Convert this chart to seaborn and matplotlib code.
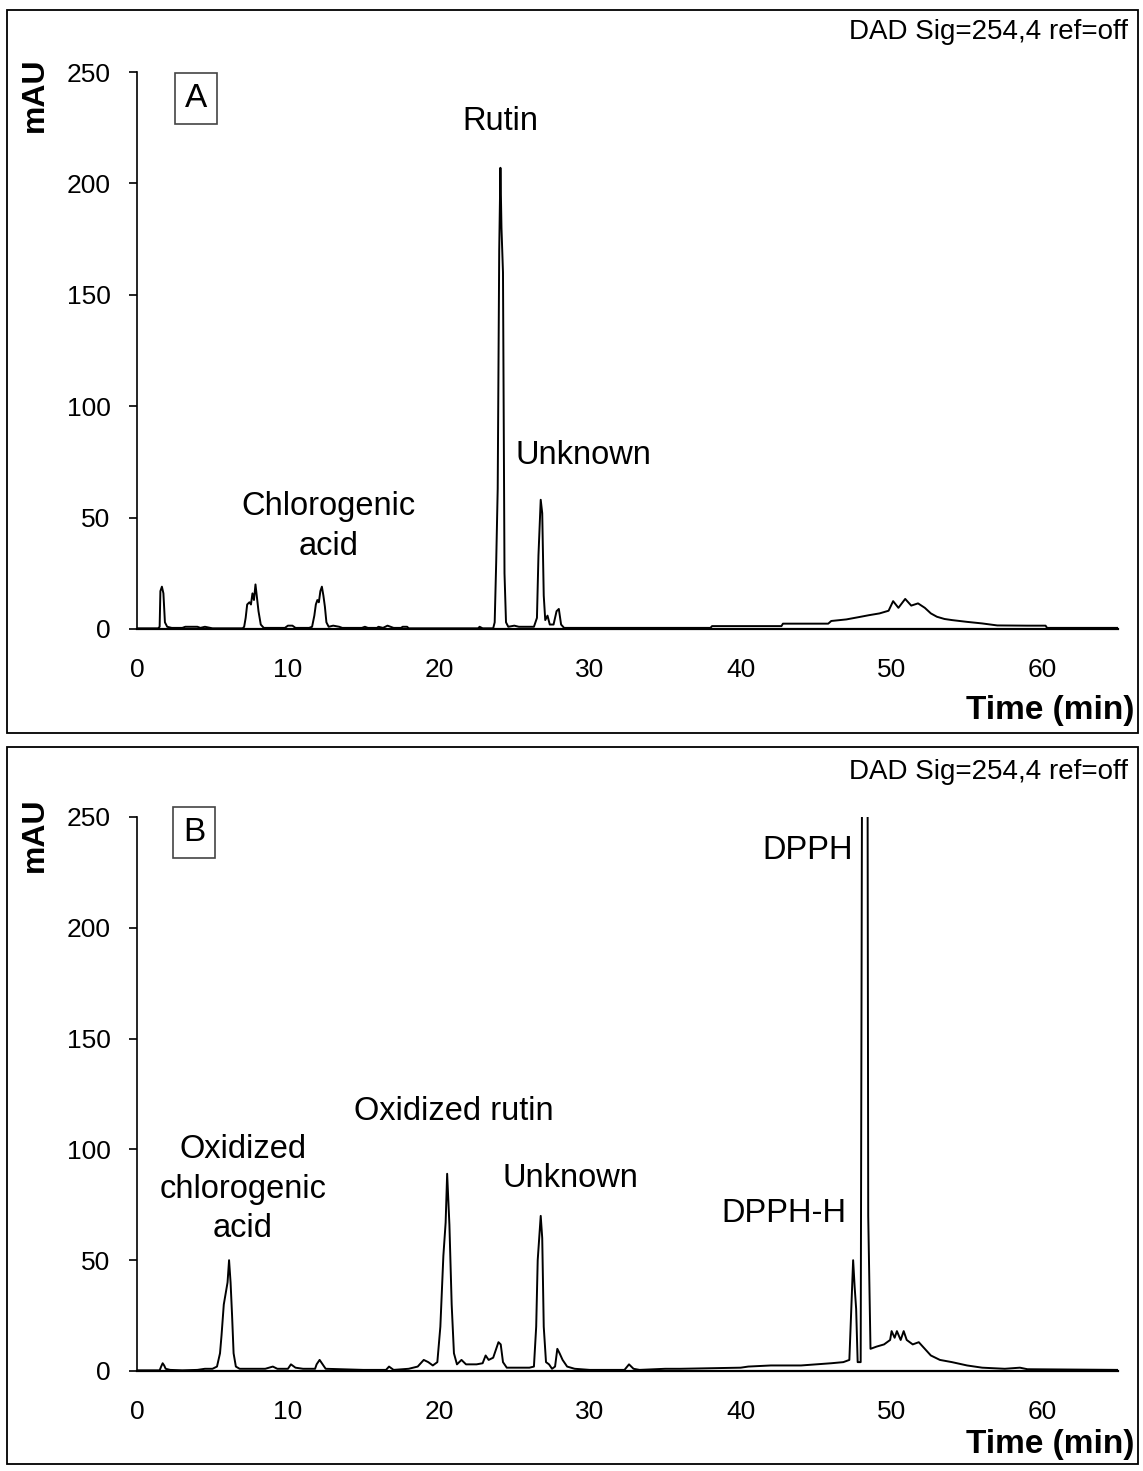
import numpy as np
import pandas as pd
import matplotlib
matplotlib.use("Agg")
import matplotlib.pyplot as plt
import seaborn as sns
from matplotlib.patches import Rectangle

# ---------------- data ----------------
time_a = [0.0, 1.4, 1.5, 1.55, 1.65, 1.75, 1.85, 2.0, 2.3, 3.0, 3.2, 4.0, 4.2, 4.5, 5.0,
          7.0, 7.1, 7.2, 7.3, 7.45, 7.55, 7.65, 7.75, 7.85, 7.95, 8.05, 8.2, 8.4,
          9.8, 10.0, 10.3, 10.5, 11.4, 11.6, 11.75, 11.85, 11.95, 12.05, 12.15, 12.25,
          12.35, 12.45, 12.55, 12.7, 13.0, 13.4, 13.6, 14.9, 15.1, 15.3, 15.9, 16.0,
          16.3, 16.6, 16.8, 17.0, 17.5, 17.6, 17.9, 18.0, 22.6, 22.7, 22.9, 23.6, 23.7,
          23.8, 23.9, 24.0, 24.08, 24.15, 24.25, 24.35, 24.45, 24.6, 25.0, 25.3, 25.6,
          26.3, 26.5, 26.6, 26.75, 26.85, 26.95, 27.05, 27.2, 27.35, 27.6, 27.8, 27.95,
          28.1, 28.3, 38.0, 38.1, 42.7, 42.8, 45.8, 46.0, 47.0, 47.8, 48.5, 49.2, 49.8,
          50.1, 50.45, 50.9, 51.3, 51.75, 52.2, 52.6, 53.0, 53.5, 54.0, 55.0, 56.0,
          57.0, 59.0, 60.2, 60.3, 65.0]
mau_a = [0.3, 0.3, 1, 17, 19, 16, 3, 1, 0.5, 0.5, 1, 1, 0.5, 1, 0.3,
         0.3, 1, 5, 11, 12, 11, 16, 13, 20, 14, 8, 2, 0.5,
         0.5, 1.5, 1.5, 0.5, 0.5, 1, 6, 11, 13, 12, 17, 19,
         15, 10, 3, 1, 1.5, 1, 0.5, 0.5, 1, 0.5, 0.5, 1,
         0.5, 1.5, 1, 0.5, 0.5, 1, 1, 0.3, 0.3, 1, 0.3, 0.3, 3,
         30, 63, 170, 207, 180, 160, 25, 3, 1, 1.5, 1, 1,
         1, 5, 33, 58, 52, 15, 4, 6, 2, 2, 8, 9,
         2, 0.5, 0.5, 1.3, 1.3, 2.4, 2.4, 3.6, 4.3, 5.3, 6.2, 7.0, 8.2,
         12.5, 9.5, 13.5, 10.5, 11.5, 9.5, 7.0, 5.5, 4.5, 4.0, 3.2, 2.5,
         1.6, 1.5, 1.5, 0.5, 0.5]

time_b = [0.0, 1.5, 1.6, 1.7, 1.8, 1.9, 2.2, 3.0, 4.0, 4.5, 5.0, 5.3, 5.5, 5.6, 5.75,
          5.9, 6.0, 6.1, 6.2, 6.3, 6.4, 6.55, 6.8, 8.5, 9.0, 9.3, 10.0, 10.2, 10.5,
          11.0, 11.8, 11.9, 12.1, 12.3, 12.5, 15.0, 16.5, 16.7, 17.0, 18.0, 18.6, 19.0,
          19.3, 19.6, 19.9, 20.1, 20.3, 20.45, 20.55, 20.7, 20.85, 21.0, 21.2, 21.5,
          21.8, 22.5, 22.9, 23.1, 23.3, 23.6, 23.8, 23.95, 24.1, 24.25, 24.5, 26.0,
          26.3, 26.45, 26.55, 26.65, 26.75, 26.85, 26.95, 27.1, 27.3, 27.5, 27.7,
          27.85, 28.0, 28.2, 28.5, 29.0, 30.0, 32.3, 32.6, 32.9, 33.3, 35.0, 36.0,
          40.0, 40.5, 42.0, 44.0, 46.0, 46.8, 47.2, 47.35, 47.45, 47.55, 47.65, 47.75,
          47.95, 48.05, 48.4, 48.45, 48.6, 49.0, 49.5, 49.9, 50.0, 50.2, 50.35, 50.6,
          50.8, 51.0, 51.4, 51.8, 52.2, 52.6, 53.2, 54.0, 55.0, 56.0, 57.5, 58.5,
          59.0, 65.0]
mau_b = [0.3, 0.3, 2, 3.5, 2.5, 1, 0.5, 0.3, 0.5, 1, 1, 2, 8, 16, 30,
         36, 40, 50, 40, 25, 8, 2, 1, 1, 2, 1, 1, 3, 1.5,
         1, 1, 3, 5, 3, 1, 0.5, 0.5, 2, 0.5, 1, 2, 5,
         4, 2.5, 4, 20, 52, 67, 89, 66, 30, 8, 3, 5,
         3, 3, 3.5, 7, 5, 6, 10, 13, 12, 4, 1.5, 1.5,
         2, 20, 50, 60, 70, 60, 20, 4, 3, 1, 2,
         10, 8, 5, 2, 1, 0.5, 0.5, 3, 1, 0.5, 1, 1,
         1.5, 2, 2.5, 2.5, 3.5, 4, 5, 32, 50, 38, 28, 4,
         4, 300, 300, 70, 10, 11, 12, 14, 18, 15, 18, 14,
         18, 14, 12, 13, 10, 7, 5, 4, 2.5, 1.5, 1, 1.5,
         0.8, 0.5]

x_ticks = [0, 10, 20, 30, 40, 50, 60]
y_ticks = [0, 50, 100, 150, 200, 250]
signal_text = "DAD Sig=254,4 ref=off"

# ---------------- style ----------------
sns.set_style("white")
plt.rcParams["font.family"] = ["Liberation Sans", "DejaVu Sans"]
plt.rcParams["text.color"] = "black"
plt.rcParams["axes.labelcolor"] = "black"

W, H = 1143, 1471
fig = plt.figure(figsize=(W / 100, H / 100), dpi=100)


def fx(x):
    return x / W


def fy(y):
    return 1 - y / H


# panel frames
fig.patches.append(Rectangle((fx(7), fy(733)), fx(1138) - fx(7), fy(10) - fy(733),
                             transform=fig.transFigure, fill=False, ec="black", lw=1.3))
fig.patches.append(Rectangle((fx(7), fy(1464)), fx(1138) - fx(7), fy(747) - fy(1464),
                             transform=fig.transFigure, fill=False, ec="black", lw=1.3))

ax_a = fig.add_axes([fx(137), fy(629), fx(1118) - fx(137), fy(72) - fy(629)])
ax_b = fig.add_axes([fx(137), fy(1371), fx(1118) - fx(137), fy(817) - fy(1371)])

df_a = pd.DataFrame({"time": time_a, "mAU": mau_a})
df_b = pd.DataFrame({"time": time_b, "mAU": mau_b})

for ax, df in ((ax_a, df_a), (ax_b, df_b)):
    sns.lineplot(data=df, x="time", y="mAU", ax=ax, color="black", lw=1.4,
                 estimator=None, sort=False)
    ax.set_xlim(0, 65)
    ax.set_ylim(0, 250)
    ax.set_xticks(x_ticks)
    ax.set_yticks(y_ticks)
    ax.set_xlabel("")
    ax.set_ylabel("")
    for s in ("top", "right"):
        ax.spines[s].set_visible(False)
    ax.spines["left"].set_color("black")
    ax.spines["left"].set_linewidth(1.2)
    ax.spines["bottom"].set_color("black")
    ax.spines["bottom"].set_linewidth(1.6)
    ax.tick_params(axis="y", direction="out", length=6, width=1.2, pad=13,
                   labelsize=19, left=True, colors="black")
    ax.tick_params(axis="x", length=0, pad=21, labelsize=19, colors="black")
    ax.patch.set_alpha(0)

ann = dict(fontsize=23.5, ha="center", va="center", linespacing=1.35, color="black")

# panel A labels
ax_a.text(3.9, 238, "A", fontsize=24, ha="center", va="center", color="black",
          bbox=dict(boxstyle="square,pad=0.3", fc="white", ec="#444444", lw=1.2))
ax_a.text(24.1, 228, "Rutin", **ann)
ax_a.text(29.6, 78, "Unknown", **ann)
ax_a.text(12.7, 46, "Chlorogenic\nacid", **ann)

# panel B labels
ax_b.text(3.8, 243, "B", fontsize=24, ha="center", va="center", color="black",
          bbox=dict(boxstyle="square,pad=0.3", fc="white", ec="#444444", lw=1.2))
ax_b.text(7.0, 82, "Oxidized\nchlorogenic\nacid", **ann)
ax_b.text(21.0, 117, "Oxidized rutin", **ann)
ax_b.text(28.7, 87, "Unknown", **ann)
ann_r = dict(ann)
ann_r["ha"] = "right"
ax_b.text(47.4, 235, "DPPH", **ann_r)
ax_b.text(47.0, 71, "DPPH-H", **ann_r)

# figure level texts
for top in (0, 740):
    fig.text(fx(1128), fy(32 + top), signal_text, fontsize=20, ha="right", va="center",
             color="black")
    fig.text(fx(35), fy(95 + top), "mAU", fontsize=23, fontweight="bold",
             rotation=90, ha="center", va="center", color="black")
fig.text(fx(1134), fy(710), "Time (min)", fontsize=24, fontweight="bold",
         ha="right", va="center", color="black")
fig.text(fx(1134), fy(1445), "Time (min)", fontsize=24, fontweight="bold",
         ha="right", va="center", color="black")

fig.savefig("out.png", dpi=100, facecolor="white")
